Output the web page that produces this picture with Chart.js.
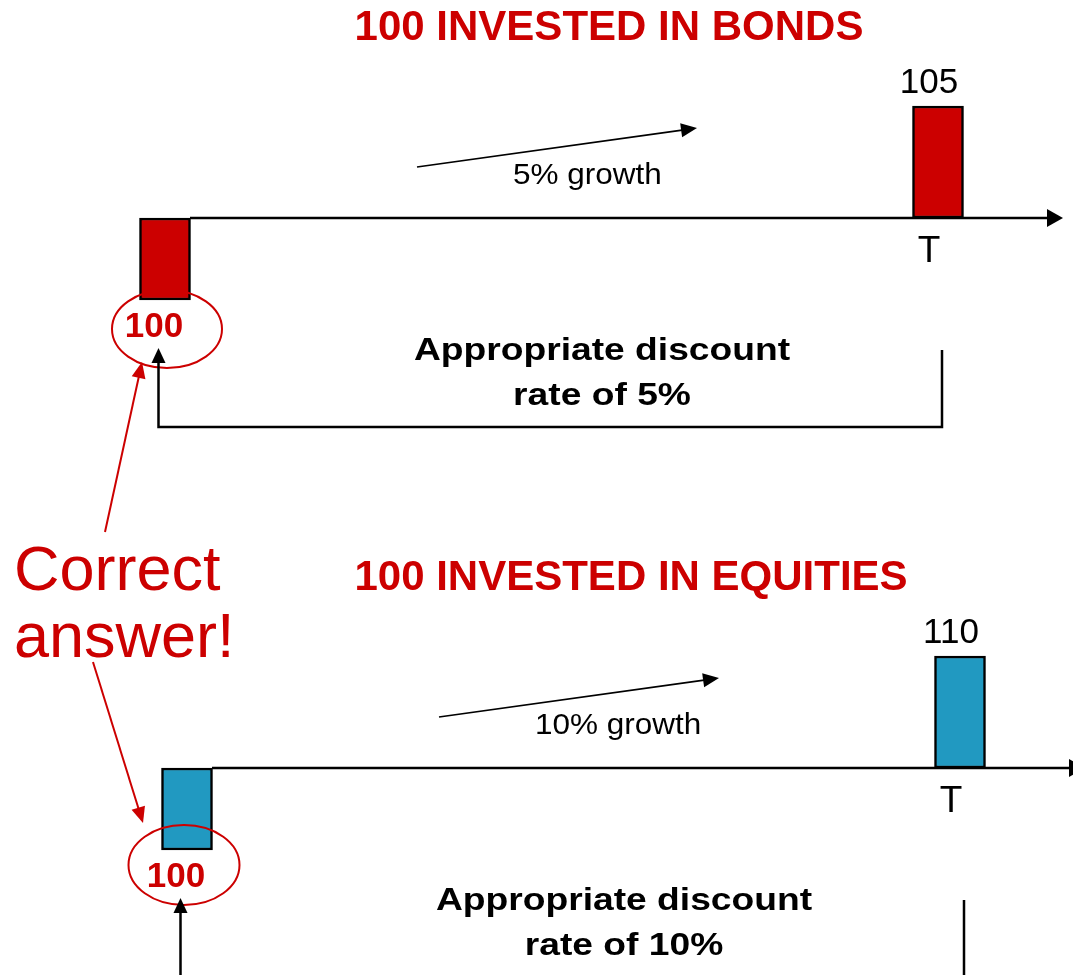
<!DOCTYPE html>
<html>
<head>
<meta charset="utf-8">
<script src="https://cdn.jsdelivr.net/npm/chart.js@4.4.1/dist/chart.umd.min.js"></script>
<style>
  html, body { margin: 0; padding: 0; background: #ffffff; overflow: hidden; width: 1073px; height: 975px; }
  canvas { position: absolute; }
  #bonds { left: 0; top: 0; }
  #equities { left: 22px; top: 550px; }
</style>
</head>
<body>
<canvas id="bonds" width="1073" height="975"></canvas>
<canvas id="equities" width="1073" height="975"></canvas>
<script>
// ---- data ----
const timeLabels = ['0', 'T'];
const panelTitles = ['100 INVESTED IN BONDS', '100 INVESTED IN EQUITIES'];
const startValues = [100, 100];
const endValues = [105, 110];
const growthLabels = ['5% growth', '10% growth'];
const discountRates = ['5%', '10%'];
const calloutText = ['Correct', 'answer!'];

// ---- styles ----
const RED = '#CC0000';
const BLUE = '#2199C1';
const barColors = [RED, BLUE];
const FONT = "'Liberation Sans', Arial, Helvetica, sans-serif";
const DEPTH_RATIO = 0.732;   // drawn depth of the outflow bar relative to the growth bar

function arrowHead(ctx, fromX, fromY, tipX, tipY, len, half, color) {
  const a = Math.atan2(tipY - fromY, tipX - fromX);
  const bx = tipX - len * Math.cos(a), by = tipY - len * Math.sin(a);
  ctx.beginPath();
  ctx.moveTo(tipX, tipY);
  ctx.lineTo(bx + half * Math.sin(a), by - half * Math.cos(a));
  ctx.lineTo(bx - half * Math.sin(a), by + half * Math.cos(a));
  ctx.closePath();
  ctx.fillStyle = color;
  ctx.fill();
}
function arrow(ctx, x1, y1, x2, y2, width, color, len, half) {
  const a = Math.atan2(y2 - y1, x2 - x1);
  ctx.beginPath();
  ctx.moveTo(x1, y1);
  ctx.lineTo(x2 - (len - 1) * Math.cos(a), y2 - (len - 1) * Math.sin(a));
  ctx.strokeStyle = color;
  ctx.lineWidth = width;
  ctx.stroke();
  arrowHead(ctx, x1, y1, x2, y2, len, half, color);
}
function text(ctx, str, x, y, font, color, align, sx) {
  ctx.save();
  ctx.font = font;
  ctx.fillStyle = color;
  ctx.textAlign = align || 'center';
  ctx.textBaseline = 'alphabetic';
  ctx.translate(x, y);
  ctx.scale(sx || 1, 1);
  ctx.fillText(str, 0, 0);
  ctx.restore();
}

const ellipseOffsets = [{dx: 2, dy: 111, rx: 55, ry: 39}, {dx: -3, dy: 97, rx: 55.5, ry: 40}];

const diagramPlugin = {
  id: 'diagram',
  beforeDatasetsDraw(chart, args, opts) {
    const i = opts.panel;
    const ctx = chart.ctx;
    const x0 = chart.scales.x.getPixelForValue(0);
    const xT = chart.scales.x.getPixelForValue(1);
    const axisY = chart.scales.y.getPixelForValue(startValues[i]);
    // time axis with arrow
    arrow(ctx, x0 + 25, axisY, xT + 125, axisY, 2.4, '#000', 16, 9);
  },
  afterDatasetsDraw(chart, args, opts) {
    const i = opts.panel;
    const ctx = chart.ctx;
    const x0 = chart.scales.x.getPixelForValue(0);
    const xT = chart.scales.x.getPixelForValue(1);
    const axisY = chart.scales.y.getPixelForValue(startValues[i]);
    const topY = chart.scales.y.getPixelForValue(endValues[i]);

    // title
    text(ctx, panelTitles[i], x0 + 444, axisY - 178, 'bold 42px ' + FONT, RED);
    // end value label and T
    text(ctx, String(endValues[i]), xT - 9, topY - 13, '35px ' + FONT, '#000');
    text(ctx, timeLabels[1], xT - 9, axisY + 44, '37px ' + FONT, '#000');
    // growth arrow + label
    arrow(ctx, x0 + 252, axisY - 51, x0 + 532, axisY - 90, 1.7, '#000', 16, 7);
    text(ctx, growthLabels[i], x0 + 348, axisY - 34, '30px ' + FONT, '#000', 'left', 1.05);
    // start value in ellipse
    const e = ellipseOffsets[i];
    ctx.beginPath();
    ctx.ellipse(x0 + e.dx, axisY + e.dy, e.rx, e.ry, 0, 0, Math.PI * 2);
    ctx.strokeStyle = RED;
    ctx.lineWidth = 2;
    ctx.stroke();
    text(ctx, String(startValues[i]), x0 - 11, axisY + 119, 'bold 35px ' + FONT, RED);
    // discount bracket
    const lx = x0 - 6.5, rx = xT + 4, by = axisY + 209;
    ctx.beginPath();
    ctx.moveTo(lx, axisY + 144);
    ctx.lineTo(lx, by);
    ctx.lineTo(rx, by);
    ctx.lineTo(rx, axisY + 132);
    ctx.strokeStyle = '#000';
    ctx.lineWidth = 2.5;
    ctx.stroke();
    arrowHead(ctx, lx, axisY + 200, lx, axisY + 130, 15, 7, '#000');
    text(ctx, 'Appropriate discount', x0 + 437, axisY + 142, 'bold 31px ' + FONT, '#000', 'center', 1.2);
    text(ctx, 'rate of ' + discountRates[i], x0 + 437, axisY + 187, 'bold 31px ' + FONT, '#000', 'center', 1.2);

    if (i === 0) {
      // callout
      text(ctx, calloutText[0], x0 - 151, axisY + 372, '63px ' + FONT, RED, 'left');
      text(ctx, calloutText[1], x0 - 151, axisY + 439, '63px ' + FONT, RED, 'left');
      arrow(ctx, x0 - 60, axisY + 314, x0 - 23, axisY + 144, 2, RED, 16, 7);
      arrow(ctx, x0 - 72, axisY + 444, x0 - 22, axisY + 605, 2, RED, 16, 7);
    }
  }
};

function makeChart(id, i) {
  const canvas = document.getElementById(id);
  const H = canvas.height, W = canvas.width;
  const growth = endValues[i] - startValues[i];
  const yMin = startValues[i] - DEPTH_RATIO * growth;
  return new Chart(canvas, {
    type: 'bar',
    data: {
      labels: timeLabels,
      datasets: [{
        data: [[yMin, startValues[i]], [startValues[i], endValues[i]]],
        backgroundColor: barColors[i],
        borderColor: '#000',
        borderWidth: 2.5,
        borderSkipped: false,
        barThickness: 51,
        clip: false
      }]
    },
    options: {
      responsive: false,
      animation: false,
      devicePixelRatio: 1,
      events: [],
      layout: { padding: { left: 165, right: W - 938, top: 106, bottom: H - 300 } },
      scales: {
        x: { type: 'category', offset: false, display: false, grid: { display: false } },
        y: { type: 'linear', min: yMin, max: endValues[i], display: false, grid: { display: false } }
      },
      plugins: {
        legend: { display: false },
        tooltip: { enabled: false },
        title: { display: false },
        diagram: { panel: i }
      }
    },
    plugins: [diagramPlugin]
  });
}

makeChart('bonds', 0);
makeChart('equities', 1);
</script>
</body>
</html>
